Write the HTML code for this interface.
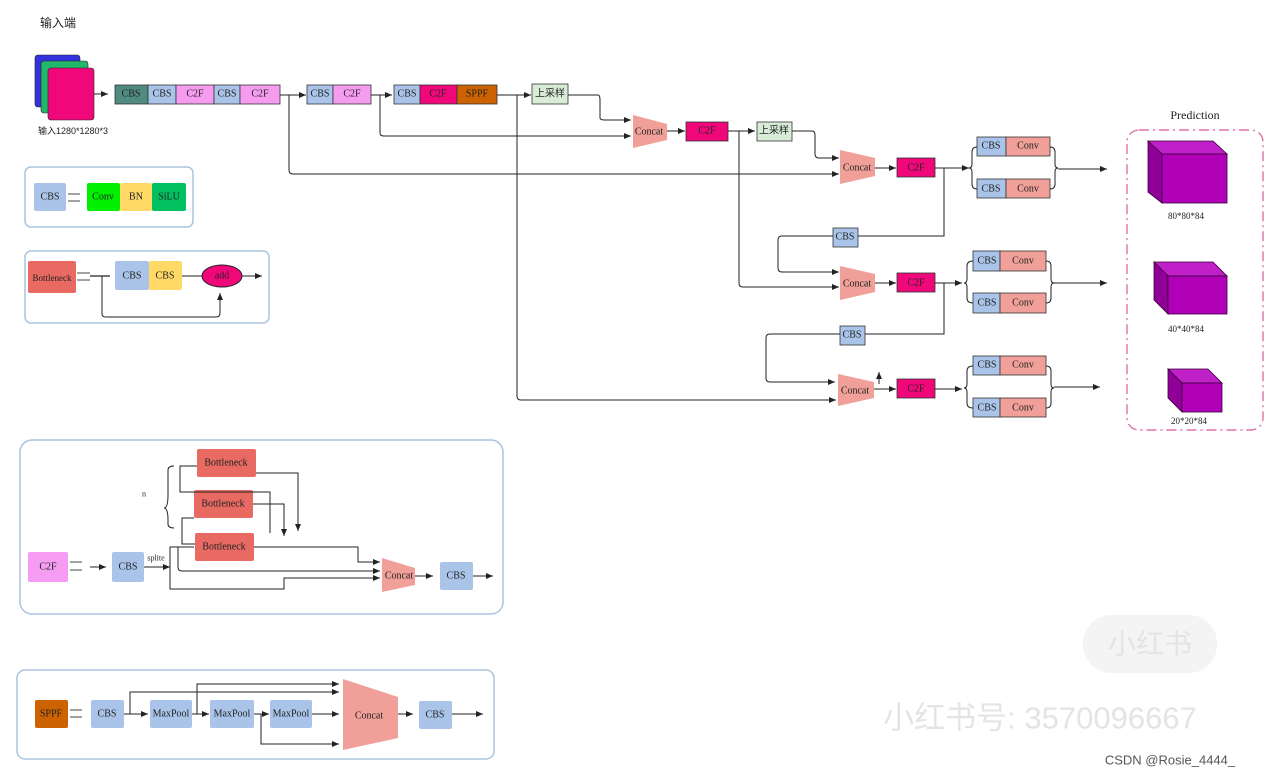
<!DOCTYPE html>
<html><head><meta charset="utf-8"><style>
body{margin:0;background:#fff}
svg{display:block}
text{font-family:"Liberation Serif","Noto Serif CJK SC",serif;fill:#222}
.cjk{font-family:"Liberation Sans","Noto Sans CJK SC",sans-serif}
.l{fill:none;stroke:#222;stroke-width:1}
.f{fill:#fff;stroke:#aac3e0;stroke-width:1.5}
</style></head><body>
<svg width="1280" height="776" viewBox="0 0 1280 776">
<defs><marker id="a" markerWidth="8" markerHeight="8" refX="7" refY="4" orient="auto" markerUnits="userSpaceOnUse"><path d="M0,1 L7,4 L0,7 Z" fill="#222"/></marker></defs>
<g text-anchor="middle" dominant-baseline="central" font-size="10">
<text x="58" y="23" class="cjk" font-size="12">输入端</text>
<rect x="35" y="55" width="45" height="52" rx="3" fill="#3333dd" stroke="#222" stroke-width=".6"/>
<rect x="41" y="61" width="47" height="52" rx="3" fill="#22b86a" stroke="#222" stroke-width=".6"/>
<rect x="48" y="68" width="46" height="52" rx="3" fill="#f0087a" stroke="#222" stroke-width=".6"/>
<path class="l" d="M94 94H108" marker-end="url(#a)"/>
<text x="73" y="131" class="cjk" font-size="9">输入1280*1280*3</text>
<g stroke="#333" stroke-width=".8">
<rect x="115" y="85" width="33" height="19" fill="#4f8b7e"/><rect x="148" y="85" width="28" height="19" fill="#a9c4e8"/>
<rect x="176" y="85" width="38" height="19" fill="#f59cf0"/><rect x="214" y="85" width="26" height="19" fill="#a9c4e8"/>
<rect x="240" y="85" width="40" height="19" fill="#f59cf0"/>
<rect x="307" y="85" width="26" height="19" fill="#a9c4e8"/><rect x="333" y="85" width="38" height="19" fill="#f59cf0"/>
<rect x="394" y="85" width="26" height="19" fill="#a9c4e8"/><rect x="420" y="85" width="37" height="19" fill="#f0087a"/>
<rect x="457" y="85" width="40" height="19" fill="#cc6200"/>
<rect x="532" y="84" width="36" height="20" fill="#d8ecd8"/>
</g>
<text x="131" y="94">CBS</text><text x="162" y="94">CBS</text><text x="195" y="94">C2F</text><text x="227" y="94">CBS</text><text x="260" y="94">C2F</text>
<text x="320" y="94">CBS</text><text x="352" y="94">C2F</text><text x="407" y="94">CBS</text><text x="438" y="94">C2F</text><text x="477" y="94">SPPF</text>
<text x="550" y="94" class="cjk">上采样</text>
<path class="l" d="M280 95H306" marker-end="url(#a)"/><path class="l" d="M371 95H392" marker-end="url(#a)"/>
<path class="l" d="M497 95H531" marker-end="url(#a)"/>
<path class="l" d="M568 95H598Q600 95 600 100V118Q600 120 605 120H631" marker-end="url(#a)"/>
<path class="l" d="M380 95V133Q380 136 384 136H631" marker-end="url(#a)"/>
<path class="l" d="M289 95V170Q289 174 293 174H839" marker-end="url(#a)"/>
<path class="l" d="M517 95V396Q517 400 521 400H836" marker-end="url(#a)"/>
<path d="M633 115L667 124V140L633 148Z" fill="#f0a098"/><text x="649" y="132">Concat</text>
<path class="l" d="M667 131H685" marker-end="url(#a)"/>
<rect x="686" y="122" width="42" height="19" fill="#f0087a" stroke="#333" stroke-width=".8"/><text x="707" y="131">C2F</text>
<path class="l" d="M728 131H755" marker-end="url(#a)"/>
<rect x="757" y="122" width="35" height="19" fill="#d8ecd8" stroke="#333" stroke-width=".8"/><text x="774" y="131" class="cjk">上采样</text>
<path class="l" d="M792 131H812Q815 131 815 135V154Q815 158 819 158H839" marker-end="url(#a)"/>
<path class="l" d="M739 131V283Q739 287 743 287H839" marker-end="url(#a)"/>
<g fill="#f0a098"><path d="M840 150L875 158V176L840 184Z"/><path d="M840 266L875 274V292L840 300Z"/><path d="M838 374L874 382V398L838 406Z"/></g>
<text x="857" y="168">Concat</text><text x="857" y="284">Concat</text><text x="855" y="391">Concat</text>
<path class="l" d="M875 168H896" marker-end="url(#a)"/><path class="l" d="M875 283H896" marker-end="url(#a)"/><path class="l" d="M874 389H896" marker-end="url(#a)"/>
<path class="l" d="M879 384V372" marker-end="url(#a)"/>
<g stroke="#333" stroke-width=".8" fill="#f0087a"><rect x="897" y="158" width="38" height="19"/><rect x="897" y="273" width="38" height="19"/><rect x="897" y="379" width="38" height="19"/></g>
<text x="916" y="168">C2F</text><text x="916" y="283">C2F</text><text x="916" y="389">C2F</text>
<path class="l" d="M935 168H969" marker-end="url(#a)"/><path class="l" d="M935 283H962" marker-end="url(#a)"/><path class="l" d="M935 389H962" marker-end="url(#a)"/>
<path class="l" d="M944 168V236H858"/><path class="l" d="M833 236H782Q778 236 778 240V268Q778 272 782 272H839" marker-end="url(#a)"/>
<path class="l" d="M944 283V334H865"/><path class="l" d="M840 334H770Q766 334 766 338V378Q766 382 770 382H835" marker-end="url(#a)"/>
<g stroke="#333" stroke-width=".8"><rect x="833" y="228" width="25" height="19" fill="#a9c4e8"/><rect x="840" y="326" width="25" height="19" fill="#a9c4e8"/></g>
<text x="845" y="237">CBS</text><text x="852" y="335">CBS</text>
<g stroke="#333" stroke-width=".8"><rect x="977" y="137" width="29" height="19" fill="#a9c4e8"/><rect x="1006" y="137" width="44" height="19" fill="#f0a098"/><rect x="977" y="179" width="29" height="19" fill="#a9c4e8"/><rect x="1006" y="179" width="44" height="19" fill="#f0a098"/></g>
<text x="991" y="146">CBS</text><text x="1028" y="146">Conv</text><text x="991" y="189">CBS</text><text x="1028" y="189">Conv</text>
<path class="l" d="M977 147Q972 147 972 152V164Q972 168 969 168Q972 168 972 172V184Q972 189 977 189"/>
<path class="l" d="M1050 147Q1055 147 1055 152V164Q1055 168 1058 168Q1055 168 1055 172V184Q1055 189 1050 189"/>
<path class="l" d="M1058 169H1107" marker-end="url(#a)"/>
<g stroke="#333" stroke-width=".8"><rect x="973" y="251" width="27" height="20" fill="#a9c4e8"/><rect x="1000" y="251" width="46" height="20" fill="#f0a098"/><rect x="973" y="293" width="27" height="20" fill="#a9c4e8"/><rect x="1000" y="293" width="46" height="20" fill="#f0a098"/>
<rect x="973" y="356" width="27" height="19" fill="#a9c4e8"/><rect x="1000" y="356" width="46" height="19" fill="#f0a098"/><rect x="973" y="398" width="27" height="19" fill="#a9c4e8"/><rect x="1000" y="398" width="46" height="19" fill="#f0a098"/></g>
<text x="987" y="261">CBS</text><text x="1023" y="261">Conv</text><text x="987" y="303">CBS</text><text x="1023" y="303">Conv</text>
<text x="987" y="365">CBS</text><text x="1023" y="365">Conv</text><text x="987" y="408">CBS</text><text x="1023" y="408">Conv</text>
<path class="l" d="M973 261Q967 261 967 266V279Q967 283 964 283Q967 283 967 287V298Q967 303 973 303"/>
<path class="l" d="M1046 261Q1051 261 1051 266V279Q1051 283 1054 283Q1051 283 1051 287V298Q1051 303 1046 303"/>
<path class="l" d="M1054 283H1107" marker-end="url(#a)"/>
<path class="l" d="M973 366Q967 366 967 371V384Q967 388 964 388Q967 388 967 392V403Q967 408 973 408"/>
<path class="l" d="M1046 366Q1051 366 1051 371V384Q1051 388 1054 388Q1051 388 1051 392V403Q1051 408 1046 408"/>
<path class="l" d="M1054 387H1100" marker-end="url(#a)"/>
<text x="1195" y="115" font-size="12">Prediction</text>
<rect x="1127" y="130" width="136" height="300" rx="12" fill="none" stroke="#e070a8" stroke-width="1.4" stroke-dasharray="10,4,2,4"/>
<g fill="#b000b8" stroke="#3a003a" stroke-width=".8">
<path d="M1148 141H1213L1227 154H1162Z" fill="#c020c8"/><path d="M1148 141V192L1162 203V154Z" fill="#900098"/><rect x="1162" y="154" width="65" height="49"/>
<path d="M1154 262H1213L1227 276H1168Z" fill="#c020c8"/><path d="M1154 262V300L1168 314V276Z" fill="#900098"/><rect x="1168" y="276" width="59" height="38"/>
<path d="M1168 369H1208L1222 383H1182Z" fill="#c020c8"/><path d="M1168 369V398L1182 412V383Z" fill="#900098"/><rect x="1182" y="383" width="40" height="29"/>
</g>
<text x="1186" y="216" font-size="9">80*80*84</text><text x="1186" y="329" font-size="9">40*40*84</text><text x="1189" y="421" font-size="9">20*20*84</text>
<rect class="f" x="25" y="167" width="168" height="60" rx="6"/>
<g><rect x="34" y="183" width="32" height="28" rx="2" fill="#a9c4e8"/><rect x="87" y="183" width="33" height="28" rx="2" fill="#00f000"/><rect x="120" y="183" width="32" height="28" rx="2" fill="#ffd866"/><rect x="152" y="183" width="34" height="28" rx="2" fill="#00c060"/></g>
<path d="M68 194H80M68 201H80" stroke="#444"/>
<text x="50" y="197">CBS</text><text x="103" y="197">Conv</text><text x="136" y="197">BN</text><text x="169" y="197">SiLU</text>
<rect class="f" x="25" y="251" width="244" height="72" rx="6"/>
<rect x="28" y="261" width="48" height="32" rx="2" fill="#e86a62"/><text x="52" y="278" font-size="9">Bottleneck</text>
<path d="M77 273H90M77 280H90" stroke="#444"/><path d="M90 276H110" stroke="#222" stroke-width="1.2"/>
<rect x="115" y="261" width="34" height="29" rx="2" fill="#a9c4e8"/><rect x="149" y="261" width="33" height="29" rx="2" fill="#ffd866"/>
<text x="132" y="276">CBS</text><text x="165" y="276">CBS</text>
<path class="l" d="M182 276H203"/><ellipse cx="222" cy="276" rx="20" ry="11" fill="#f0087a" stroke="#222"/><text x="222" y="276">add</text>
<path class="l" d="M242 276H262" marker-end="url(#a)"/>
<path class="l" d="M102 276V314Q102 317 106 317H216Q220 317 220 313V293" marker-end="url(#a)"/>
<rect class="f" x="20" y="440" width="483" height="174" rx="12"/>
<g fill="#e86a62"><rect x="197" y="449" width="59" height="28" rx="2"/><rect x="194" y="490" width="59" height="28" rx="2"/><rect x="195" y="533" width="59" height="28" rx="2"/></g>
<text x="226" y="463">Bottleneck</text><text x="223" y="504">Bottleneck</text><text x="224" y="547">Bottleneck</text>
<path class="l" d="M174 466Q168 466 168 470V495Q168 508 164 508Q168 508 168 520V524Q168 528 174 528"/>
<text x="144" y="494" font-size="8">n</text>
<path class="l" d="M197 466H180V492H270V533"/>
<path class="l" d="M256 473H298V531" marker-end="url(#a)"/>
<path class="l" d="M194 518H182V544H195"/>
<path class="l" d="M253 504H284V536" marker-end="url(#a)"/>
<rect x="28" y="552" width="40" height="30" rx="2" fill="#f79cf3"/><text x="48" y="567">C2F</text>
<path d="M70 562H82M70 570H82" stroke="#444"/>
<path class="l" d="M90 567H106" marker-end="url(#a)"/>
<rect x="112" y="552" width="32" height="30" rx="2" fill="#a9c4e8"/><text x="128" y="567">CBS</text>
<text x="156" y="558" font-size="8">splite</text>
<path class="l" d="M144 567H170" marker-end="url(#a)"/>
<path class="l" d="M170 567V547H194"/><path class="l" d="M254 547H358V562H380" marker-end="url(#a)"/>
<path class="l" d="M178 547V567Q178 571 182 571H380" marker-end="url(#a)"/>
<path class="l" d="M170 567V589H284V578H380" marker-end="url(#a)"/>
<path d="M382 558L415 568V585L382 592Z" fill="#f0a098"/><text x="399" y="576">Concat</text>
<path class="l" d="M415 576H433" marker-end="url(#a)"/>
<rect x="440" y="562" width="33" height="28" rx="2" fill="#a9c4e8"/><text x="456" y="576">CBS</text>
<path class="l" d="M473 576H493" marker-end="url(#a)"/>
<rect class="f" x="17" y="670" width="477" height="89" rx="8"/>
<rect x="35" y="700" width="33" height="28" rx="2" fill="#cc6200"/><text x="51" y="714">SPPF</text>
<path d="M70 710H82M70 717H82" stroke="#444"/>
<rect x="91" y="700" width="33" height="28" rx="2" fill="#a9c4e8"/><text x="107" y="714">CBS</text>
<rect x="150" y="700" width="42" height="28" rx="2" fill="#a9c4e8"/><text x="171" y="714">MaxPool</text>
<rect x="210" y="700" width="44" height="28" rx="2" fill="#a9c4e8"/><text x="232" y="714">MaxPool</text>
<rect x="270" y="700" width="42" height="28" rx="2" fill="#a9c4e8"/><text x="291" y="714">MaxPool</text>
<path class="l" d="M124 714H148" marker-end="url(#a)"/><path class="l" d="M192 714H209" marker-end="url(#a)"/><path class="l" d="M254 714H269" marker-end="url(#a)"/><path class="l" d="M312 714H339" marker-end="url(#a)"/>
<path class="l" d="M130 714V692H339" marker-end="url(#a)"/>
<path class="l" d="M197 714V684H339" marker-end="url(#a)"/>
<path class="l" d="M261 714V744H339" marker-end="url(#a)"/>
<path d="M343 679L398 697V738L343 750Z" fill="#f0a098"/><text x="369" y="716">Concat</text>
<path class="l" d="M398 714H413" marker-end="url(#a)"/>
<rect x="419" y="701" width="33" height="28" rx="2" fill="#a9c4e8"/><text x="435" y="715">CBS</text>
<path class="l" d="M452 714H483" marker-end="url(#a)"/>
<rect x="1083" y="615" width="134" height="58" rx="28" fill="#f4f4f4"/>
<text x="1150" y="644" class="cjk" font-size="28" style="fill:#e4e4e4">小红书</text>
<text x="1040" y="718" class="cjk" font-size="31" style="fill:#e4e4e4">小红书号: 3570096667</text>
<text x="1170" y="760" class="cjk" font-size="13" style="fill:#555">CSDN @Rosie_4444_</text>
</g>
</svg>
</body></html>
